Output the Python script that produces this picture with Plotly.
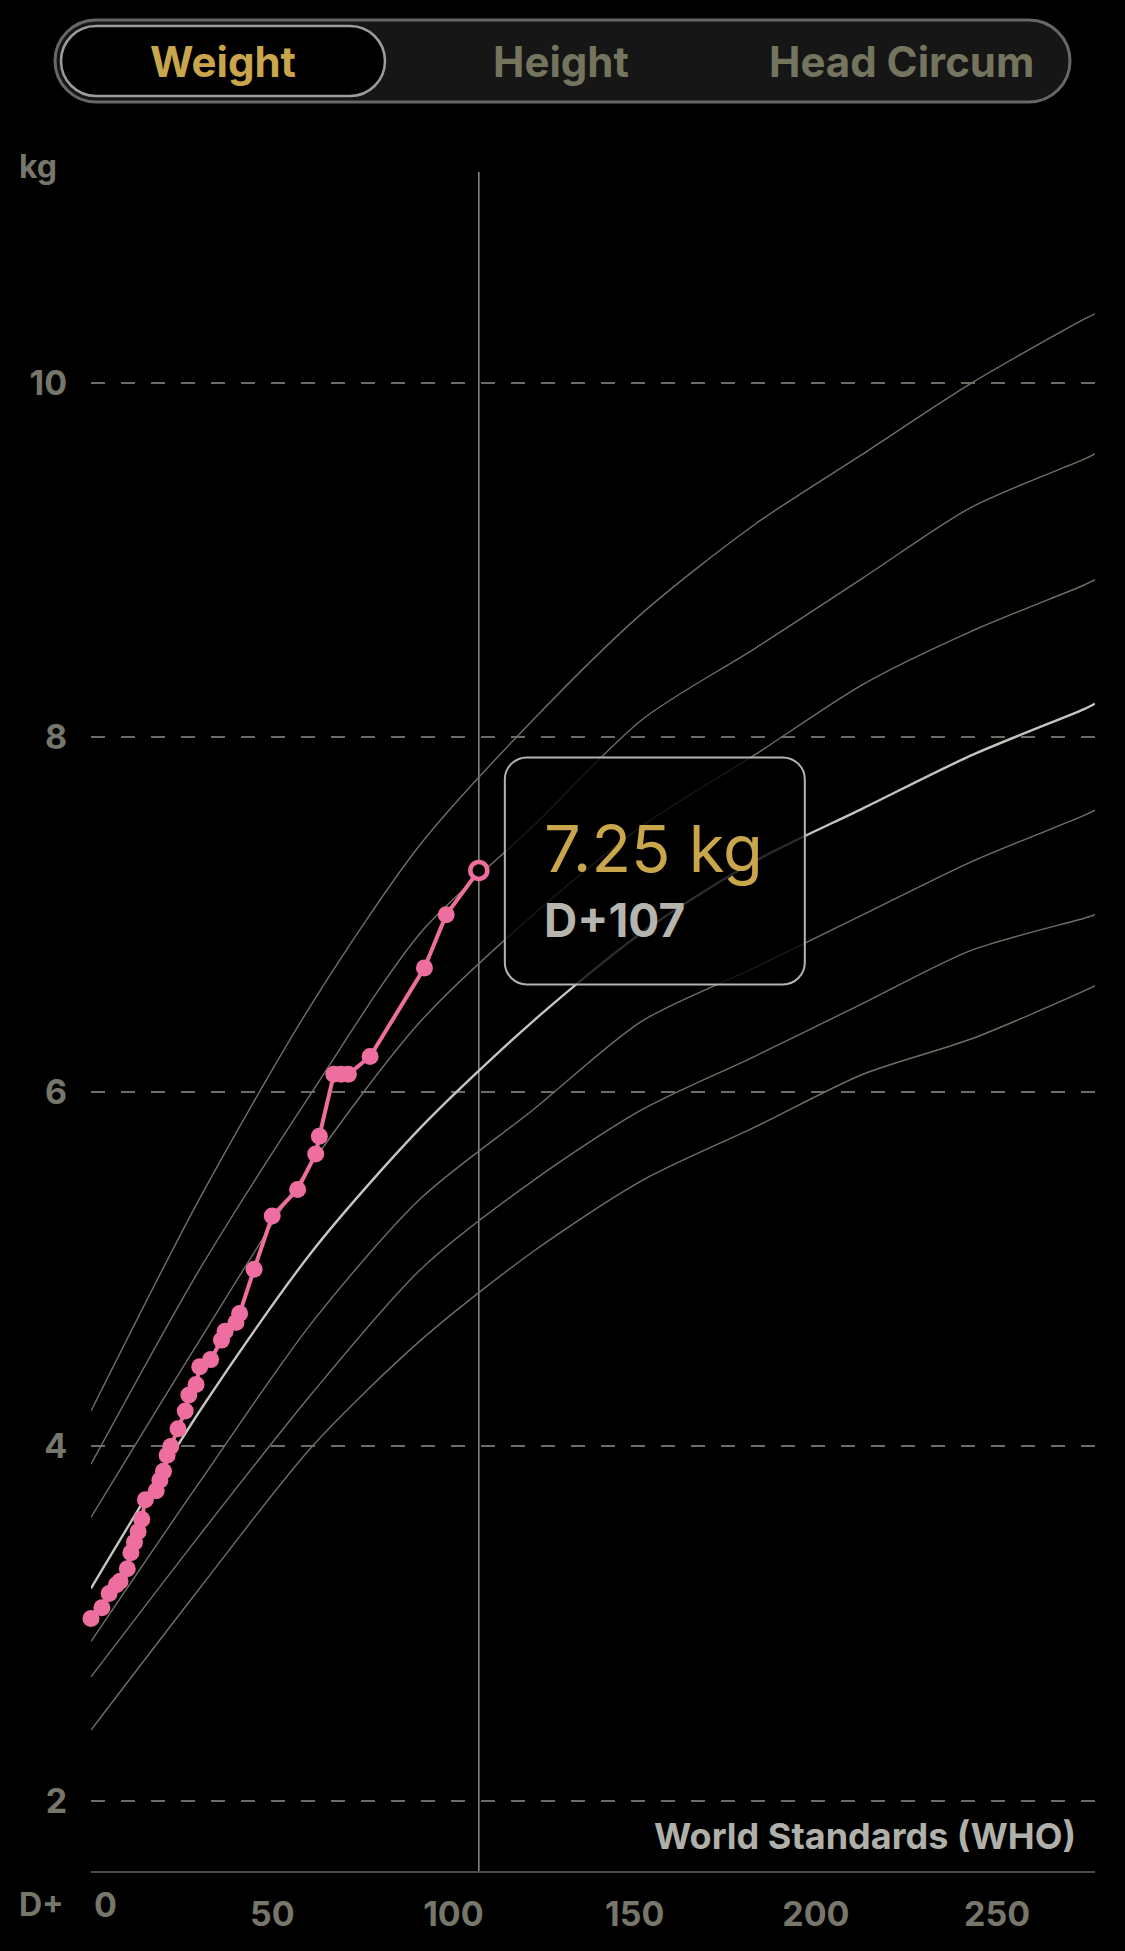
import plotly.graph_objects as go

# ---------------- data ----------------
days = [0, 3, 5, 7, 8, 10, 11, 12, 13, 14, 15, 18, 19, 20, 21, 22, 24, 26, 27, 29,
        30, 33, 36, 37, 40, 41, 45, 50, 57, 62, 63, 67, 69, 71, 77, 92, 98, 107]
weights = [3.03, 3.09, 3.17, 3.22, 3.24, 3.31, 3.40, 3.46, 3.52, 3.59, 3.70, 3.75, 3.81,
           3.86, 3.95, 4.00, 4.10, 4.20, 4.29, 4.35, 4.45, 4.49, 4.60, 4.65, 4.70, 4.75,
           5.00, 5.30, 5.45, 5.65, 5.75, 6.10, 6.10, 6.10, 6.20, 6.70, 7.00, 7.25]

pct_days = [0, 30, 61, 91, 122, 152, 183, 213, 243, 274, 277]
p3 = [2.4, 3.2, 4.0, 4.6, 5.1, 5.5, 5.8, 6.1, 6.3, 6.57, 6.60]
p10 = [2.7, 3.5, 4.3, 5.0, 5.5, 5.9, 6.2, 6.5, 6.8, 6.98, 7.00]
p25 = [2.9, 3.8, 4.7, 5.4, 5.9, 6.4, 6.7, 7.0, 7.3, 7.56, 7.59]
p50 = [3.2, 4.2, 5.1, 5.8, 6.4, 6.9, 7.3, 7.6, 7.9, 8.16, 8.19]
p75 = [3.6, 4.6, 5.6, 6.4, 7.0, 7.5, 7.9, 8.3, 8.6, 8.86, 8.89]
p90 = [3.9, 5.0, 6.0, 6.9, 7.5, 8.1, 8.5, 8.9, 9.3, 9.57, 9.60]
p97 = [4.2, 5.4, 6.5, 7.4, 8.1, 8.7, 9.2, 9.6, 10.0, 10.36, 10.39]

y_ticks = [2, 4, 6, 8, 10]
x_ticks = [0, 50, 100, 150, 200, 250]
tabs = ["Weight", "Height", "Head Circum"]

# ---------------- layout geometry ----------------
W, H = 1125, 1951
ML, MR, MT, MB = 91, 30, 172, 80
PW, PH = W - ML - MR, H - MT - MB
XR = [0, 277]
YR = [1.605, 11.19]

FONT = "Inter, Roboto, Arial, sans-serif"
TICK_C = "#76766a"
PINK = "#ee6f9f"
GOLD = "#c9a54c"


def px_x(x):
    return (x - ML) / PW


def px_y(y):
    return (H - MB - y) / PH


def data_px(d, v):
    return (ML + (d - XR[0]) / (XR[1] - XR[0]) * PW,
            H - MB - (v - YR[0]) / (YR[1] - YR[0]) * PH)


def rr_path(x0, y0, x1, y1, r):
    k = 0.5523 * r
    pts = [
        ("M", [(x0 + r, y0)]),
        ("L", [(x1 - r, y0)]),
        ("C", [(x1 - r + k, y0), (x1, y0 + r - k), (x1, y0 + r)]),
        ("L", [(x1, y1 - r)]),
        ("C", [(x1, y1 - r + k), (x1 - r + k, y1), (x1 - r, y1)]),
        ("L", [(x0 + r, y1)]),
        ("C", [(x0 + r - k, y1), (x0, y1 - r + k), (x0, y1 - r)]),
        ("L", [(x0, y0 + r)]),
        ("C", [(x0, y0 + r - k), (x0 + r - k, y0), (x0 + r, y0)]),
    ]
    s = ""
    for cmd, ps in pts:
        s += cmd + " " + " ".join(f"{px_x(a):.5f},{px_y(b):.5f}" for a, b in ps) + " "
    return s + "Z"


fig = go.Figure()

# percentile curves
for vals, is_med in [(p3, False), (p10, False), (p25, False), (p50, True),
                     (p75, False), (p90, False), (p97, False)]:
    fig.add_trace(go.Scatter(
        x=pct_days, y=vals, mode="lines",
        line=dict(color="#c4c4c0" if is_med else "#6f6f65",
                  width=2.4 if is_med else 1.4, shape="spline", smoothing=0.8),
        hoverinfo="skip", showlegend=False))

# measurements
fig.add_trace(go.Scatter(
    x=days, y=weights, mode="lines+markers", cliponaxis=False,
    line=dict(color=PINK, width=4),
    marker=dict(color=PINK, size=17, line=dict(width=0)),
    hoverinfo="skip", showlegend=False))
fig.add_trace(go.Scatter(
    x=days[-1:], y=weights[-1:], mode="markers", cliponaxis=False,
    marker=dict(color="#000000", size=17, line=dict(color=PINK, width=4.5)),
    hoverinfo="skip", showlegend=False))

shapes = []
# vertical line at the selected day
shapes.append(dict(type="line", xref="x", yref="paper", x0=days[-1], x1=days[-1],
                   y0=0, y1=1, line=dict(color="#8c8c88", width=1.5), layer="below"))

# segmented control
shapes.append(dict(type="path", xref="paper", yref="paper",
                   path=rr_path(55, 20, 1070, 102, 41),
                   fillcolor="#161616", line=dict(color="#676767", width=3)))
shapes.append(dict(type="path", xref="paper", yref="paper",
                   path=rr_path(61, 26, 385, 96, 35),
                   fillcolor="#000000", line=dict(color="#9c9c9c", width=2.5)))

# tooltip box
lx, ly = data_px(days[-1], weights[-1])
bx0, bx1 = lx + 26, lx + 326
by0, by1 = ly - 113, ly + 114
shapes.append(dict(type="path", xref="paper", yref="paper",
                   path=rr_path(bx0, by0, bx1, by1, 22),
                   fillcolor="rgba(0,0,0,0.78)", line=dict(color="#b4b4b0", width=2)))

annotations = []
tab_pos = [223, 561, 901]
for t, xc in zip(tabs, tab_pos):
    annotations.append(dict(text=f"<b>{t}</b>", x=px_x(xc), y=px_y(61), xref="paper",
                            yref="paper", showarrow=False, xanchor="center", yanchor="middle",
                            font=dict(family=FONT, size=42,
                                      color=GOLD if t == "Weight" else "#74745f")))
annotations.append(dict(text="<b>kg</b>", x=px_x(17), y=px_y(166), xref="paper", yref="paper",
                        showarrow=False, xanchor="left", yanchor="middle",
                        font=dict(family=FONT, size=32, color=TICK_C)))
annotations.append(dict(text="<b>D+</b>", x=px_x(17), y=px_y(1905), xref="paper", yref="paper",
                        showarrow=False, xanchor="left", yanchor="middle",
                        font=dict(family=FONT, size=32, color=TICK_C)))
# first x tick label sits left-aligned at the axis start
annotations.append(dict(text=f"<b>{x_ticks[0]}</b>", x=x_ticks[0], y=px_y(1905), xref="x",
                        yref="paper", showarrow=False, xanchor="left", yanchor="middle",
                        xshift=1, font=dict(family=FONT, size=34, color=TICK_C)))
annotations.append(dict(text="<b>World Standards (WHO)</b>", x=px_x(1078), y=px_y(1836),
                        xref="paper", yref="paper", showarrow=False, xanchor="right",
                        yanchor="middle",
                        font=dict(family=FONT, size=36, color="#b0b0aa")))
annotations.append(dict(text=f"{weights[-1]:.2f} kg", x=px_x(bx0 + 37), y=px_y(ly - 22),
                        xref="paper", yref="paper", showarrow=False, xanchor="left",
                        yanchor="middle", font=dict(family=FONT, size=65, color=GOLD)))
annotations.append(dict(text=f"<b>D+{days[-1]}</b>", x=px_x(bx0 + 37), y=px_y(ly + 50),
                        xref="paper", yref="paper", showarrow=False, xanchor="left",
                        yanchor="middle", font=dict(family=FONT, size=46, color="#b5b5ae")))

x_text = [""] + [str(v) for v in x_ticks[1:]]

fig.update_layout(
    width=W, height=H,
    margin=dict(l=ML, r=MR, t=MT, b=MB, pad=0),
    paper_bgcolor="#000000", plot_bgcolor="#000000",
    shapes=shapes, annotations=annotations,
    showlegend=False,
    xaxis=dict(range=XR, tickvals=x_ticks, ticktext=x_text, showgrid=False, zeroline=False,
               showline=True, linecolor="#4a4a4a", linewidth=2,
               ticks="outside", ticklen=12, tickcolor="rgba(0,0,0,0)",
               tickfont=dict(family=FONT, size=34, color=TICK_C, weight="bold"),
               fixedrange=True),
    yaxis=dict(range=YR, tickvals=y_ticks, showgrid=True, gridcolor="#6c6c66",
               gridwidth=2, griddash="14px,16px", zeroline=False, showline=False,
               ticks="outside", ticklen=16, tickcolor="rgba(0,0,0,0)",
               tickfont=dict(family=FONT, size=34, color=TICK_C, weight="bold"),
               fixedrange=True),
)

fig.write_html("out.html", config={"displayModeBar": False, "staticPlot": True},
               post_script="document.body.style.margin='0';document.body.style.overflow='hidden';")
